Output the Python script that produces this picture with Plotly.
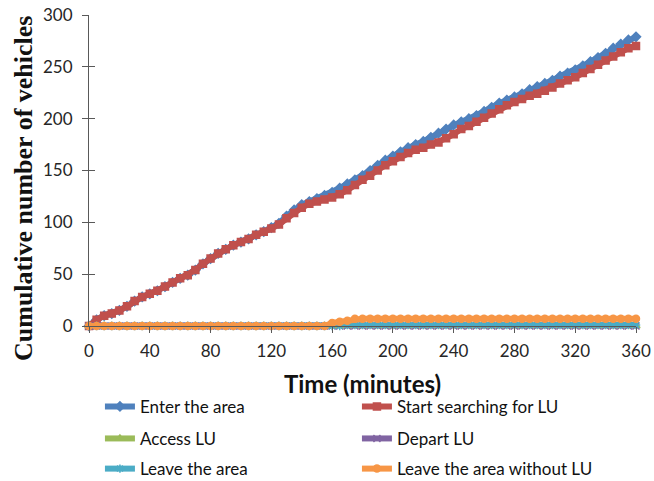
import plotly.graph_objects as go

time_min = list(range(0, 361, 5))

enter_area = [0, 6, 10, 12, 15, 19, 24, 28, 31, 34, 38, 42, 46, 49, 54, 60, 65, 70, 74, 78,
              81, 84, 88, 91, 95, 99, 106, 112, 117, 120, 123, 126, 129, 133, 137, 141, 145, 150,
              155, 160, 164, 168, 172, 175, 178, 182, 186, 190, 194, 197, 200, 203, 207, 211,
              215, 218, 221, 224, 228, 231, 234, 237, 241, 244, 247, 251, 255, 259, 263, 268,
              272, 276, 279]

start_search = [0, 6, 10, 12, 15, 19, 24, 28, 31, 34, 38, 42, 46, 49, 54, 60, 65, 70, 74, 78,
                81, 84, 88, 91, 94, 98, 104, 109, 114, 118, 120, 122, 124, 127, 131, 136, 141,
                145, 150, 155, 159, 163, 167, 170, 172, 175, 177, 181, 185, 190, 193, 197, 201,
                205, 209, 213, 216, 219, 222, 224, 227, 230, 234, 237, 240, 244, 248, 252, 256,
                260, 264, 268, 270]

access_lu = [0] * 73
depart_lu = [0] * 73

leave_area = [0] * 33 + [0, 1, 1] + [1] * 37

leave_without = [0] * 32 + [3, 4, 5, 7] + [7] * 37

x_ticks = [0, 40, 80, 120, 160, 200, 240, 280, 320, 360]
y_ticks = [0, 50, 100, 150, 200, 250, 300]

series = [
    ("Enter the area", enter_area, "#4F81BD", "diamond", "legend"),
    ("Start searching for LU", start_search, "#C0504D", "square", "legend"),
    ("Access LU", access_lu, "#9BBB59", "triangle-up", "legend2"),
    ("Depart LU", depart_lu, "#8064A2", "x-thin-open", "legend2"),
    ("Leave the area", leave_area, "#4BACC6", "asterisk-open", "legend3"),
    ("Leave the area without LU", leave_without, "#F79646", "circle", "legend3"),
]

fig = go.Figure()
for name, vals, col, sym, leg in series:
    fig.add_trace(go.Scatter(
        x=time_min, y=vals, name=name, mode="lines+markers",
        line=dict(color=col, width=6),
        marker=dict(color=col, symbol=sym, size=7, line=dict(color=col, width=1.5)),
        legend=leg, cliponaxis=False,
    ))

# invisible trace for the inner tick half of the y axis
fig.add_trace(go.Scatter(x=[0], y=[0], yaxis="y2", showlegend=False,
                         mode="markers", marker=dict(opacity=0), hoverinfo="skip"))

tick_font = dict(family="Lato, Carlito, sans-serif", size=17, color="#262626")
leg_font = dict(family="Lato, Carlito, sans-serif", size=17, color="#111111")

leg_common = dict(orientation="h", xanchor="left", yanchor="middle",
                  entrywidth=212, entrywidthmode="pixels", font=leg_font,
                  bgcolor="rgba(0,0,0,0)", itemwidth=30)

fig.update_layout(
    width=654, height=481,
    margin=dict(l=89, r=18, t=15, b=155, autoexpand=False),
    paper_bgcolor="white", plot_bgcolor="white",
    xaxis=dict(range=[0, 360], tickvals=x_ticks, ticks="outside", ticklen=6,
               tickcolor="#595959", showline=True, linecolor="#595959", linewidth=1,
               showgrid=False, zeroline=False, tickfont=tick_font, ticklabelstandoff=4,
               title=dict(text="<b>Time (minutes)</b>",
                          font=dict(family="Lato, Carlito, sans-serif", size=24, color="#111111"),
                          standoff=15)),
    yaxis=dict(range=[0, 300], tickvals=y_ticks, ticks="outside", ticklen=6,
               tickcolor="#595959", showline=True, linecolor="#595959", linewidth=1,
               showgrid=False, zeroline=False, tickfont=tick_font, ticklabelstandoff=6),
    yaxis2=dict(range=[0, 300], tickvals=y_ticks, ticks="inside", ticklen=6,
                tickcolor="#595959", overlaying="y", side="left", showticklabels=False,
                showgrid=False, zeroline=False, showline=False),
    legend=dict(x=0.02, y=-0.26, **leg_common),
    legend2=dict(x=0.02, y=-0.363, **leg_common),
    legend3=dict(x=0.02, y=-0.46, **leg_common),
    annotations=[dict(text="<b>Cumulative number of vehicles</b>", textangle=-90,
                      xref="paper", yref="paper", x=-0.1207, y=0.4437,
                      xanchor="center", yanchor="middle", showarrow=False,
                      font=dict(family="Liberation Serif, Times New Roman, serif", size=26, color="#111111"))],
)

fig.write_html("out.html", config={"displayModeBar": False},
               post_script="document.body.style.margin='0';")
